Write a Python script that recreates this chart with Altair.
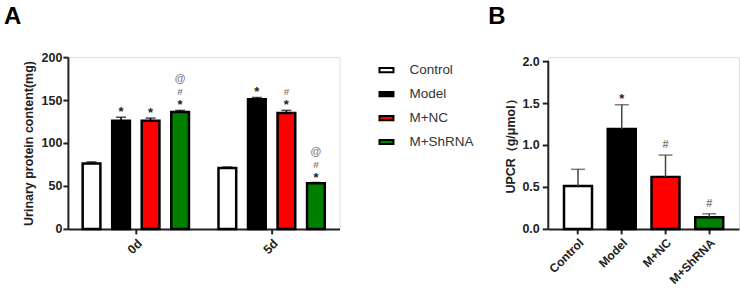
import altair as alt
import pandas as pd

# ---------------- data ----------------
groups_a = ["0d", "5d"]
series = ["Control", "Model", "M+NC", "M+ShRNA"]
colors = ["#ffffff", "#000000", "#ff0000", "#008000"]

a_mean_0d = [76, 126, 126, 136]
a_upper_0d = [78, 130, 129, 138]
a_mean_5d = [71, 151, 135, 53]
a_upper_5d = [72, 153, 138, 54]
a_star_0d = ["", "*", "*", "*"]
a_hash_0d = ["", "", "", "#"]
a_at_0d = ["", "", "", "@"]
a_star_5d = ["", "*", "*", "*"]
a_hash_5d = ["", "", "#", "#"]
a_at_5d = ["", "", "", "@"]

b_mean = [0.51, 1.19, 0.62, 0.14]
b_upper = [0.71, 1.48, 0.88, 0.18]
b_star = ["", "*", "", ""]
b_hash = ["", "", "#", "#"]

a_ticks = [0, 50, 100, 150, 200]
b_ticks = [0.0, 0.5, 1.0, 1.5, 2.0]
panel_letters = ["A", "B"]

# ---------------- tables ----------------
rows = []
for g, means, ups, st, hs, at in [
    ("0d", a_mean_0d, a_upper_0d, a_star_0d, a_hash_0d, a_at_0d),
    ("5d", a_mean_5d, a_upper_5d, a_star_5d, a_hash_5d, a_at_5d),
]:
    for i, s in enumerate(series):
        rows.append(dict(group=g, series=s, mean=means[i], upper=ups[i],
                         star=st[i], hash=hs[i], at=at[i]))
dfa = pd.DataFrame(rows)
dfb = pd.DataFrame(dict(series=series, mean=b_mean, upper=b_upper,
                        star=b_star, hash=b_hash))

FONT = "Liberation Sans"
INK = "#222222"
GRAY = "#808080"

legend = alt.Legend(
    title=None, orient="none", legendX=311, legendY=5,
    symbolType="M-1,-0.3H1V0.3H-1Z", symbolSize=196,
    symbolStrokeColor="black", symbolStrokeWidth=2,
    labelFont=FONT, labelFontSize=13.5, labelColor="#333333",
    labelOffset=15, rowPadding=9,
)
color = alt.Color("series:N", scale=alt.Scale(domain=series, range=colors),
                  legend=legend)


def letter(text, x, y):
    return alt.Chart(pd.DataFrame({"t": [text]})).mark_text(
        font=FONT, fontSize=24, fontWeight="bold", color="black",
        align="left", baseline="alphabetic").encode(
        x=alt.value(x), y=alt.value(y), text="t:N")


# ---------------- panel A ----------------
xa = alt.X("group:N", sort=groups_a, title=None,
           scale=alt.Scale(paddingInner=0, paddingOuter=0),
           axis=alt.Axis(labelAngle=-45, labelFont=FONT, labelFontSize=12.5,
                         labelFontWeight="bold", labelColor=INK,
                         domainColor=INK, domainWidth=2, tickColor=INK,
                         tickWidth=2, tickSize=5, labelPadding=3))
xoa = alt.XOffset("series:N", sort=series,
                  scale=alt.Scale(paddingInner=0.4, paddingOuter=0.5))
ya_scale = alt.Scale(domain=[0, 200], nice=False)
ya = alt.Y("mean:Q", scale=ya_scale, title="Urinary protein content(mg)",
           axis=alt.Axis(values=a_ticks, labelFont=FONT, labelFontSize=12.5,
                         labelFontWeight="bold", labelColor=INK,
                         titleFont=FONT, titleFontSize=12.5,
                         titleFontWeight="bold", titleColor=INK,
                         domainColor=INK, domainWidth=2, tickColor=INK,
                         tickWidth=2, tickSize=5, grid=False,
                         labelPadding=1, titlePadding=6))

base_a = alt.Chart(dfa)
bars_a = base_a.mark_bar(stroke="black", strokeWidth=2.5).encode(
    x=xa, xOffset=xoa, y=ya, color=color)
err_a = base_a.mark_rule(color="black", strokeWidth=1.5).encode(
    x=xa, xOffset=xoa, y=alt.Y("mean:Q", scale=ya_scale), y2="upper:Q")
cap_a = base_a.mark_tick(color="black", thickness=1.5, size=10).encode(
    x=xa, xOffset=xoa, y=alt.Y("upper:Q", scale=ya_scale))


def txt_a(field, dy, col, size):
    return base_a.mark_text(dy=dy, color=col, fontSize=size, font=FONT,
                            fontWeight="bold", baseline="middle").encode(
        x=xa, xOffset=xoa, y=alt.Y("upper:Q", scale=ya_scale),
        text=f"{field}:N")


star_a = txt_a("star", -5, INK, 13)
hash_a = txt_a("hash", -18, GRAY, 10)
at_a = txt_a("at", -31, GRAY, 11)

chart_a = alt.layer(bars_a, err_a, cap_a, star_a, hash_a, at_a,
                    letter(panel_letters[0], -64, -33)).properties(
    width=272, height=172)

# ---------------- panel B ----------------
xb = alt.X("series:N", sort=series, title=None,
           scale=alt.Scale(paddingInner=0.36, paddingOuter=0.36),
           axis=alt.Axis(labelAngle=-45, labelFont=FONT, labelFontSize=12,
                         labelFontWeight="bold", labelColor=INK,
                         domainColor=INK, domainWidth=2, tickColor=INK,
                         tickWidth=2, tickSize=5, labelPadding=3))
yb_scale = alt.Scale(domain=[0, 2.0476], nice=False)
yb = alt.Y("mean:Q", scale=yb_scale, title="UPCR（g/μmol）",
           axis=alt.Axis(values=b_ticks, format=".1f", labelFont=FONT,
                         labelFontSize=12.5, labelFontWeight="bold",
                         labelColor=INK, titleFont=FONT, titleFontSize=12.5,
                         titleFontWeight="bold", titleColor=INK,
                         domain=False, tickColor=INK, tickWidth=2,
                         tickSize=6, grid=False, labelPadding=3,
                         titlePadding=4))

base_b = alt.Chart(dfb)
bars_b = base_b.mark_bar(stroke="black", strokeWidth=2.5).encode(
    x=xb, y=yb, color=color)
err_b = base_b.mark_rule(color="#444444", strokeWidth=1.5).encode(
    x=xb, y=alt.Y("mean:Q", scale=yb_scale), y2="upper:Q")
cap_b = base_b.mark_tick(color="#444444", thickness=1.5, size=14).encode(
    x=xb, y=alt.Y("upper:Q", scale=yb_scale))
star_b = base_b.mark_text(dy=-6, color=INK, fontSize=13, font=FONT,
                          fontWeight="bold", baseline="middle").encode(
    x=xb, y=alt.Y("upper:Q", scale=yb_scale), text="star:N")
hash_b = base_b.mark_text(dy=-10, color=GRAY, fontSize=11, font=FONT,
                          fontWeight="bold", baseline="middle").encode(
    x=xb, y=alt.Y("upper:Q", scale=yb_scale), text="hash:N")
yaxis_line = alt.Chart(pd.DataFrame({"lo": [b_ticks[0]], "hi": [b_ticks[-1]]})).mark_rule(
    color=INK, strokeWidth=2).encode(
    x=alt.value(0), y=alt.Y("lo:Q", scale=yb_scale), y2="hi:Q")

chart_b = alt.layer(bars_b, err_b, cap_b, star_b, hash_b, yaxis_line,
                    letter(panel_letters[1], -60, -33)).properties(
    width=191, height=172)

chart = alt.hconcat(chart_a, chart_b, spacing=147).properties(
    padding={"left": 3, "top": 4, "right": 0, "bottom": 0},
).configure_view(stroke=None).configure(background="white")

chart.save("out.html", embed_options={"renderer": "svg", "actions": False})
